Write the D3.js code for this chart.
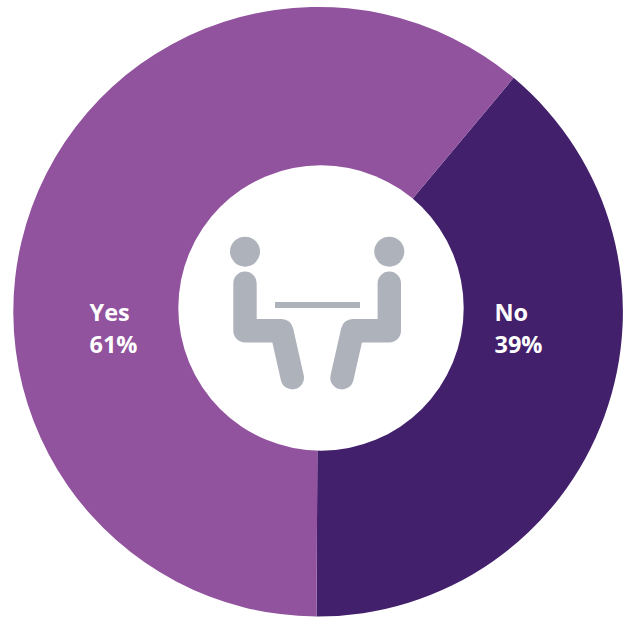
<!DOCTYPE html>
<html>
<head>
<meta charset="utf-8">
<script src="https://cdn.jsdelivr.net/npm/d3@7"></script>
<style>
  html, body { margin: 0; padding: 0; background: #fff; }
  svg { display: block; }
</style>
</head>
<body>
<svg id="chart" width="629" height="617"></svg>
<script>
const categories = ["No", "Yes"];
const shares = [39, 61];
const sliceColors = ["#42206b", "#91529e"];

const width = 629, height = 617;
const cx = 318.1, cy = 311.7, outerRadius = 304.8;
const holeX = 321, holeY = 308, holeRadius = 142.7;
const firstSliceAngle = 39.9 * Math.PI / 180;

const svg = d3.select("#chart");

const pie = d3.pie().sort(null)
  .startAngle(firstSliceAngle)
  .endAngle(firstSliceAngle + 2 * Math.PI);
const arc = d3.arc().innerRadius(0).outerRadius(outerRadius);
const slices = pie(shares);

const ring = svg.append("g").attr("transform", `translate(${cx},${cy})`);
ring.selectAll("path")
  .data(slices)
  .join("path")
  .attr("d", arc)
  .attr("fill", (d, i) => sliceColors[i]);

// White hole of the doughnut
svg.append("circle")
  .attr("cx", holeX).attr("cy", holeY).attr("r", holeRadius)
  .attr("fill", "#fff");

// Two seated figures at a table, drawn with thick rounded strokes
const iconColor = "#aeb2bb";
const icon = svg.append("g");
const figure = d3.line();
const bodyPoints = [[245, 283.3], [245, 330.7], [281.7, 330.7], [292.3, 377.7]];
const mirrorAxis = 317.15;
[false, true].forEach(mirrored => {
  const place = x => mirrored ? 2 * mirrorAxis - x : x;
  icon.append("circle")
    .attr("cx", place(245)).attr("cy", 251.7).attr("r", 15)
    .attr("fill", iconColor);
  icon.append("path")
    .attr("d", figure(bodyPoints.map(([x, y]) => [place(x), y])))
    .attr("fill", "none")
    .attr("stroke", iconColor)
    .attr("stroke-width", 23.4)
    .attr("stroke-linecap", "round")
    .attr("stroke-linejoin", "round");
});
icon.append("rect")
  .attr("x", 275).attr("y", 302).attr("width", 85).attr("height", 6)
  .attr("fill", iconColor);

// Category and percentage labels on the ring
const labelX = { No: 494.5, Yes: 89.5 };
const labels = svg.append("g")
  .attr("fill", "#fff")
  .attr("font-family", "'Open Sans', sans-serif")
  .attr("font-weight", 700)
  .attr("font-size", 23.5);
categories.forEach((name, i) => {
  labels.append("text").attr("x", labelX[name]).attr("y", 320.5).text(name);
  labels.append("text").attr("x", labelX[name]).attr("y", 352.5).text(shares[i] + "%");
});
</script>
</body>
</html>
